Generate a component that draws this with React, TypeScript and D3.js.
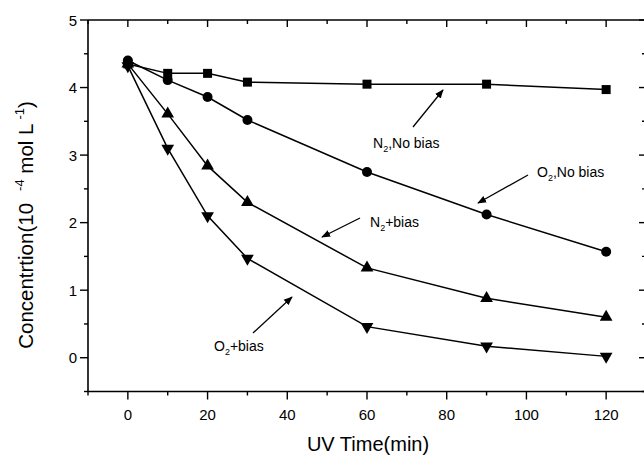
import React from "react";
import * as d3 from "d3";

const times = [0, 10, 20, 30, 60, 90, 120];
const n2NoBias = [4.35, 4.21, 4.21, 4.08, 4.05, 4.05, 3.97];
const o2NoBias = [4.4, 4.11, 3.86, 3.52, 2.75, 2.12, 1.57];
const n2Bias = [4.35, 3.61, 2.84, 2.3, 1.33, 0.88, 0.6];
const o2Bias = [4.32, 3.1, 2.1, 1.47, 0.46, 0.17, 0.02];
const xMajor = [0, 20, 40, 60, 80, 100, 120];
const xMinor = [-10, 10, 30, 50, 70, 90, 110, 130];
const yMajor = [0, 1, 2, 3, 4, 5];
const yMinor = [-0.5, 0.5, 1.5, 2.5, 3.5, 4.5];

const W = 644, H = 455;
const x = d3.scaleLinear().domain([-10, 130]).range([88, 646]);
const y = d3.scaleLinear().domain([-0.5, 5]).range([391.5, 20]);
const font = "Arial, 'Liberation Sans', sans-serif";

function Marker({ type, cx, cy }: { type: string; cx: number; cy: number }) {
  if (type === "square") return <rect x={cx - 4.5} y={cy - 4.5} width={9} height={9} fill="#000" />;
  if (type === "circle") return <circle cx={cx} cy={cy} r={5} fill="#000" />;
  const sym = d3.symbol().type(d3.symbolTriangle).size(70)();
  if (type === "up") return <path d={sym || ""} transform={`translate(${cx},${cy})`} fill="#000" />;
  return <path d={sym || ""} transform={`translate(${cx},${cy}) rotate(180)`} fill="#000" />;
}

function Label({ x0, y0, gas, rest }: { x0: number; y0: number; gas: string; rest: string }) {
  return (
    <text x={x0} y={y0} fontSize={14} fontFamily={font}>
      {gas}
      <tspan fontSize={9} dy={4}>2</tspan>
      <tspan dy={-4}>{rest}</tspan>
    </text>
  );
}

export default function App() {
  const line = d3.line<number>().x((_, i) => x(times[i])).y((d) => y(d));
  const series = [
    { data: n2NoBias, type: "square" },
    { data: o2NoBias, type: "circle" },
    { data: n2Bias, type: "up" },
    { data: o2Bias, type: "down" },
  ];
  const arrows = [
    [413, 127, 443, 90],
    [528, 175, 478, 203],
    [360, 218, 322, 237],
    [253, 333, 292, 297],
  ];
  const x0 = x.range()[0], x1 = x.range()[1];
  const y0 = y.range()[0], y1 = y.range()[1];
  return (
    <svg width={W} height={H} style={{ position: "absolute", left: 0, top: 0, background: "#fff" }}>
      <defs>
        <marker id="ah" viewBox="0 0 10 10" refX="9" refY="5" markerWidth="9" markerHeight="9" markerUnits="userSpaceOnUse" orient="auto">
          <path d="M0,1 L10,5 L0,9 Z" fill="#000" />
        </marker>
      </defs>
      {/* frame */}
      <line x1={x0} x2={x0} y1={y1} y2={y0} stroke="#000" strokeWidth={1.6} />
      <line x1={x0} x2={x1} y1={y0} y2={y0} stroke="#000" strokeWidth={1.6} />
      <line x1={x0} x2={x1} y1={y1} y2={y1} stroke="#000" strokeWidth={1.6} />
      <line x1={x1} x2={x1} y1={y1} y2={y0} stroke="#000" strokeWidth={1.6} />
      {/* x ticks */}
      {xMajor.map((t) => (
        <g key={"xm" + t}>
          <line x1={x(t)} x2={x(t)} y1={y0} y2={y0 + 8} stroke="#000" strokeWidth={1.4} />
          <line x1={x(t)} x2={x(t)} y1={y1} y2={y1 + 7} stroke="#000" strokeWidth={1.4} />
          <text x={x(t)} y={420} textAnchor="middle" fontSize={15} fontFamily={font}>{t}</text>
        </g>
      ))}
      {xMinor.map((t) => (
        <g key={"xn" + t}>
          <line x1={x(t)} x2={x(t)} y1={y0} y2={y0 + 4} stroke="#000" strokeWidth={1.4} />
          <line x1={x(t)} x2={x(t)} y1={y1} y2={y1 + 4} stroke="#000" strokeWidth={1.4} />
        </g>
      ))}
      {yMajor.map((t) => (
        <g key={"ym" + t}>
          <line x1={x0 - 8} x2={x0} y1={y(t)} y2={y(t)} stroke="#000" strokeWidth={1.4} />
          <line x1={x1 - 7} x2={x1} y1={y(t)} y2={y(t)} stroke="#000" strokeWidth={1.4} />
          <text x={77} y={y(t) + 5.5} textAnchor="end" fontSize={15} fontFamily={font}>{t}</text>
        </g>
      ))}
      {yMinor.map((t) => (
        <g key={"yn" + t}>
          <line x1={x0 - 4} x2={x0} y1={y(t)} y2={y(t)} stroke="#000" strokeWidth={1.4} />
          <line x1={x1 - 4} x2={x1} y1={y(t)} y2={y(t)} stroke="#000" strokeWidth={1.4} />
        </g>
      ))}
      {/* series */}
      {series.map((s, si) => (
        <g key={si}>
          <path d={line(s.data) || ""} fill="none" stroke="#000" strokeWidth={1.5} />
          {s.data.map((v, i) => (
            <Marker key={i} type={s.type} cx={x(times[i])} cy={y(v)} />
          ))}
        </g>
      ))}
      {/* arrows */}
      {arrows.map((a, i) => (
        <line key={i} x1={a[0]} y1={a[1]} x2={a[2]} y2={a[3]} stroke="#000" strokeWidth={1.3} markerEnd="url(#ah)" />
      ))}
      <Label x0={373} y0={148} gas="N" rest=",No bias" />
      <Label x0={537} y0={177} gas="O" rest=",No bias" />
      <Label x0={370} y0={227} gas="N" rest="+bias" />
      <Label x0={214} y0={351} gas="O" rest="+bias" />
      {/* axis titles */}
      <text x={368} y={451} textAnchor="middle" fontSize={20} fontFamily={font}>UV Time(min)</text>
      <text transform={`translate(33,225) rotate(-90)`} textAnchor="middle" fontSize={20.5} fontFamily={font}>
        Concentrtion(10
        <tspan fontSize={13} dx={12} dy={-9}>-4</tspan>
        <tspan dy={9}> mol L</tspan>
        <tspan fontSize={13} dx={4} dy={-9}>-1</tspan>
        <tspan dy={9}>)</tspan>
      </text>
    </svg>
  );
}
